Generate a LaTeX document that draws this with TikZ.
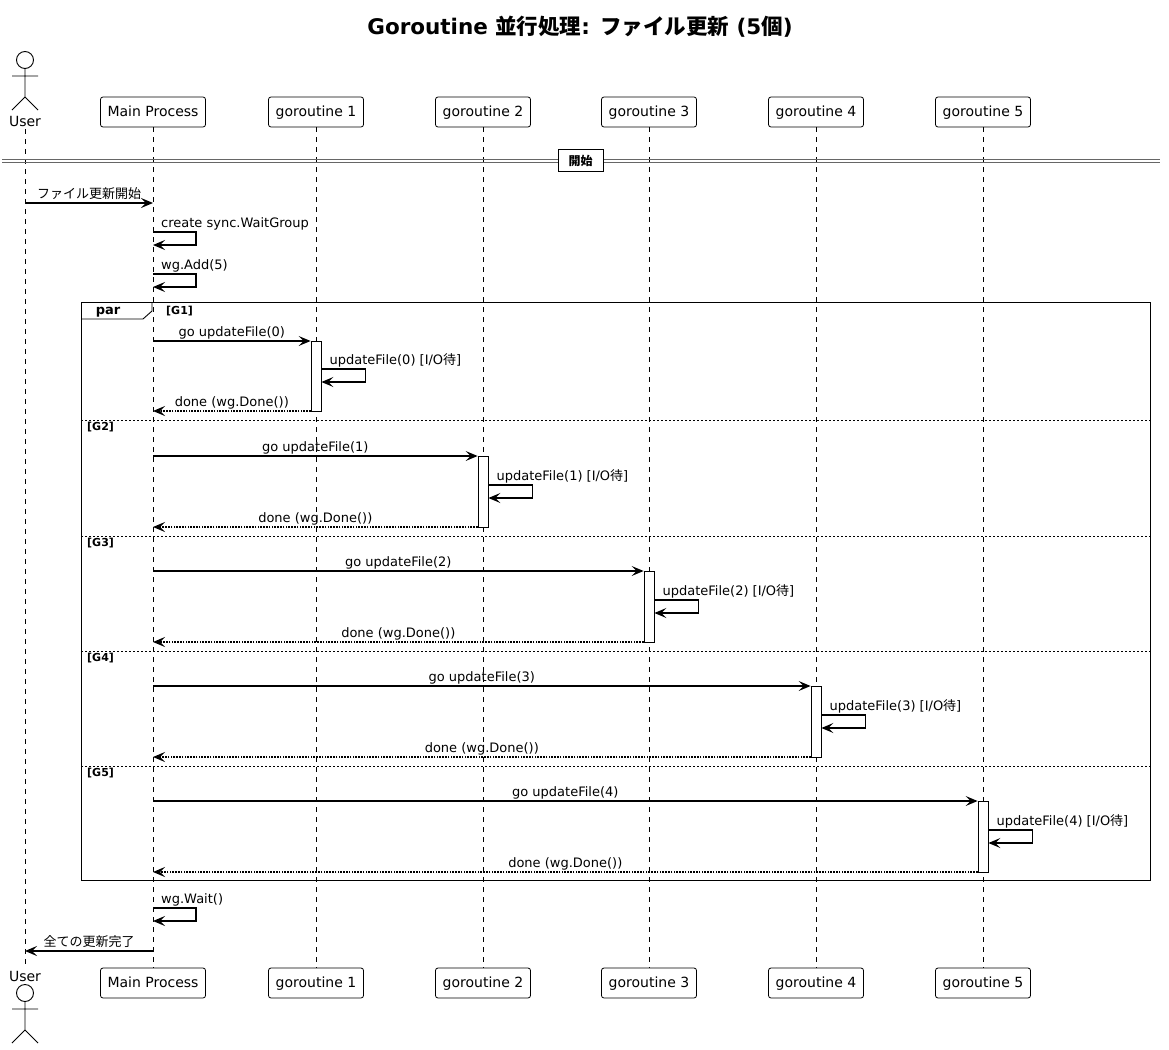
\documentclass[tikz,border=0pt]{standalone}
\usepackage{fontspec}
\setmainfont{DejaVu Sans}
\newfontfamily\cjk{Noto Sans CJK JP}
\newcommand\ja[1]{{\cjk #1}}
\usetikzlibrary{arrows.meta,calc}
\tikzset{
  pbox/.style={draw, rounded corners=2.5pt, line width=0.8pt, minimum height=30pt, inner sep=0pt, fill=white, text height=10.5pt, text depth=2.5pt, font=\fontsize{14}{16}\selectfont},
  life/.style={dash pattern=on 5pt off 5pt, line width=0.8pt},
  msgline/.style={line width=1.4pt, -{Stealth[length=12pt,width=10pt,inset=5pt]}},
  retline/.style={msgline, dash pattern=on 1.6pt off 1.2pt},
  act/.style={draw, fill=white, line width=0.8pt, minimum width=10pt, inner sep=0pt},
  mlabel/.style={font=\fontsize{13}{15}\selectfont, inner sep=0pt},
  grp/.style={font=\bfseries\fontsize{11}{13}\selectfont, inner sep=0pt},
  sep/.style={dash pattern=on 2pt off 2pt, line width=0.8pt},
  actorline/.style={line width=0.9pt},
}
\newcommand\msg[6]{% style, from, to, y, label, name
  \coordinate (tmpy) at (0,#4);
  \draw[#1] (#2 |- tmpy) -- node[mlabel, anchor=base, yshift=5pt] (#6) {#5} (#3 |- tmpy);
}
\newcommand\selfmsg[5]{% from, y, width, label, name
  \coordinate (tmpa) at (0,#2);
  \coordinate (tmpb) at (0,#2+13);
  \draw[msgline] (#1 |- tmpa) -- ++(#3,0) |- (#1 |- tmpb);
  \node[mlabel, anchor=base west] (#5) at ($(#1 |- tmpa)+(8,-5)$) {#4};
}
\newcommand\actor[3]{% x, y of head centre, name
  \draw[actorline] (#1,#2) circle (8.5pt);
  \draw[actorline] (#1,#2+8.5) -- (#1,#2+37) (#1-13,#2+16) -- (#1+13,#2+16)
    (#1-13,#2+50) -- (#1,#2+37) -- (#1+13,#2+50);
}
\begin{document}
\begin{tikzpicture}[x=1pt,y=-1pt]
\useasboundingbox[fill=white] (0,0) rectangle (1169,1049);

% title
\node[font=\bfseries\fontsize{21.5}{26}\selectfont] (title) at (580,27)
  {Goroutine \ja{並行処理}: \ja{ファイル更新} (5\ja{個})};

% actors
\actor{25}{60}{uTop}
\node[font=\fontsize{14}{16}\selectfont, inner sep=0pt] (uT) at (25,121) {User};
\node[font=\fontsize{14}{16}\selectfont, inner sep=0pt] (uB) at (25,976) {User};
\actor{25}{993}{uBot}

% participants top
\node[pbox, minimum width=105pt] (mpT) at (153,112) {Main Process};
\node[pbox, minimum width=95pt] (g1T) at (316,112) {goroutine 1};
\node[pbox, minimum width=95pt] (g2T) at (483,112) {goroutine 2};
\node[pbox, minimum width=95pt] (g3T) at (649,112) {goroutine 3};
\node[pbox, minimum width=95pt] (g4T) at (816,112) {goroutine 4};
\node[pbox, minimum width=95pt] (g5T) at (983,112) {goroutine 5};
% participants bottom
\node[pbox, minimum width=105pt] (mpB) at (153,983) {Main Process};
\node[pbox, minimum width=95pt] (g1B) at (316,983) {goroutine 1};
\node[pbox, minimum width=95pt] (g2B) at (483,983) {goroutine 2};
\node[pbox, minimum width=95pt] (g3B) at (649,983) {goroutine 3};
\node[pbox, minimum width=95pt] (g4B) at (816,983) {goroutine 4};
\node[pbox, minimum width=95pt] (g5B) at (983,983) {goroutine 5};

% lifelines
\draw[life] (uT.south) ++(0,3) -- ($(uB.north)+(0,-3)$);
\foreach \p in {mp,g1,g2,g3,g4,g5}{
  \draw[life] (\p T.south) -- (\p B.north);
}

% divider
\draw[gray!80!black, line width=0.8pt] (2,159) -- (1160,159) (2,162.5) -- (1160,162.5);
\node[draw, fill=white, line width=0.8pt, minimum width=45pt, minimum height=22pt, inner sep=0pt,
  font=\bfseries\fontsize{12}{14}\selectfont] (start) at (580.5,160.5) {\ja{開始}};

% initial messages
\msg{msgline}{uT}{mpT}{203}{\ja{ファイル更新開始}}{m1}
\selfmsg{mpT}{232}{43}{create sync.WaitGroup}{m2}
\selfmsg{mpT}{274}{43}{wg.Add(5)}{m3}

% par frame
\draw[line width=0.9pt] (81,302) rectangle (1150,880);
\draw[line width=0.9pt] (81,319) -- (143,319) -- (152,311) -- (152,302);
\node[font=\bfseries\fontsize{13}{15}\selectfont, inner sep=0pt, text height=9pt, text depth=3pt] (parl) at (108,311.5) {par};
\node[grp, anchor=west, text height=8pt, text depth=2pt] (G1) at (166,311) {[G1]};
\draw[sep] (81,420) -- (1150,420);
\node[grp, anchor=west, text height=8pt, text depth=2pt] (G2) at (87,427) {[G2]};
\draw[sep] (81,536) -- (1150,536);
\node[grp, anchor=west, text height=8pt, text depth=2pt] (G3) at (87,543) {[G3]};
\draw[sep] (81,651) -- (1150,651);
\node[grp, anchor=west, text height=8pt, text depth=2pt] (G4) at (87,658) {[G4]};
\draw[sep] (81,766) -- (1150,766);
\node[grp, anchor=west, text height=8pt, text depth=2pt] (G5) at (87,773) {[G5]};

% activations
\node[act, minimum height=70pt] (a1) at (316,376) {};
\node[act, minimum height=71pt] (a2) at (483,491.5) {};
\node[act, minimum height=71pt] (a3) at (649,606.5) {};
\node[act, minimum height=71pt] (a4) at (816,721.5) {};
\node[act, minimum height=71pt] (a5) at (983,836.5) {};

% G1
\msg{msgline}{mpT}{a1.west}{341}{go updateFile(0)}{go1}
\selfmsg{a1.east}{369}{44}{updateFile(0) [I/O\ja{待}]}{s1}
\msg{retline}{a1.west}{mpT}{411}{done (wg.Done())}{d1}
% G2
\msg{msgline}{mpT}{a2.west}{456}{go updateFile(1)}{go2}
\selfmsg{a2.east}{485}{44}{updateFile(1) [I/O\ja{待}]}{s2}
\msg{retline}{a2.west}{mpT}{527}{done (wg.Done())}{d2}
% G3
\msg{msgline}{mpT}{a3.west}{571}{go updateFile(2)}{go3}
\selfmsg{a3.east}{600}{44}{updateFile(2) [I/O\ja{待}]}{s3}
\msg{retline}{a3.west}{mpT}{642}{done (wg.Done())}{d3}
% G4
\msg{msgline}{mpT}{a4.west}{686}{go updateFile(3)}{go4}
\selfmsg{a4.east}{715}{44}{updateFile(3) [I/O\ja{待}]}{s4}
\msg{retline}{a4.west}{mpT}{757}{done (wg.Done())}{d4}
% G5
\msg{msgline}{mpT}{a5.west}{801}{go updateFile(4)}{go5}
\selfmsg{a5.east}{830}{44}{updateFile(4) [I/O\ja{待}]}{s5}
\msg{retline}{a5.west}{mpT}{872}{done (wg.Done())}{d5}

% final
\selfmsg{mpT}{908}{43}{wg.Wait()}{m4}
\msg{msgline}{mpT}{uT}{951}{\ja{全ての更新完了}}{m5}
\end{tikzpicture}
\end{document}
